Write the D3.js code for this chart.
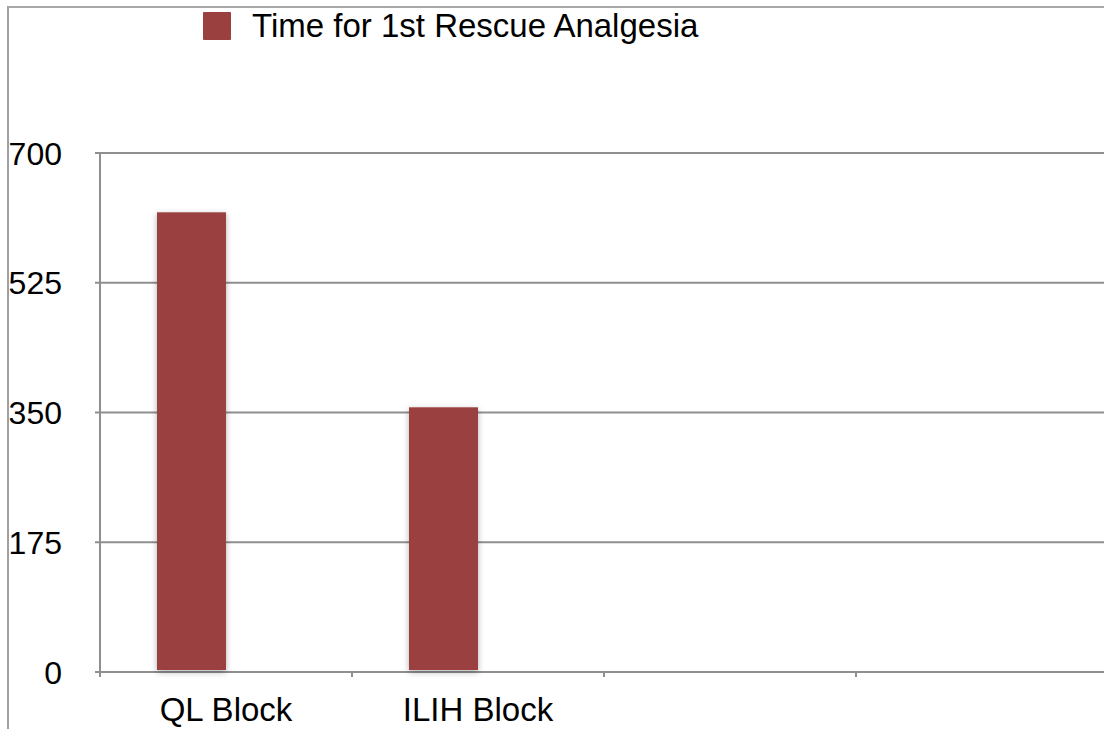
<!DOCTYPE html>
<html>
<head>
<meta charset="utf-8">
<script src="https://cdn.jsdelivr.net/npm/d3@7"></script>
<style>
  html, body { margin: 0; padding: 0; background: #fff; }
  svg { display: block; font-family: "Liberation Sans", Arial, Helvetica, sans-serif; }
</style>
</head>
<body>
<svg id="chart" width="1104" height="729"></svg>
<script>
// Category slots along the x axis (the last two are empty)
const categories = ["QL Block", "ILIH Block", "", ""];
// Time for 1st rescue analgesia per block
const seriesName = "Time for 1st Rescue Analgesia";
const values = [620, 357];
// Y axis tick values
const yTicks = [0, 175, 350, 525, 700];

const W = 1104, H = 729;
const plot = { left: 100, right: 1108, top: 153, bottom: 672 };
const barColor = "#9a403f";
const gridColor = "#8f8f8f";

const svg = d3.select("#chart");

const defs = svg.append("defs");
const shadow = defs.append("filter").attr("id", "barShadow")
  .attr("x", "-30%").attr("y", "-10%").attr("width", "160%").attr("height", "120%");
shadow.append("feDropShadow")
  .attr("dx", 0).attr("dy", 2).attr("stdDeviation", 3)
  .attr("flood-color", "#000").attr("flood-opacity", 0.3);

// Outer frame (left and top edges)
svg.append("line").attr("x1", 8).attr("x2", 8).attr("y1", 6).attr("y2", H)
  .attr("stroke", "#a0a0a0").attr("stroke-width", 2);
svg.append("line").attr("x1", 8).attr("x2", W).attr("y1", 7).attr("y2", 7)
  .attr("stroke", "#a8a8a8").attr("stroke-width", 2);

const x = d3.scaleBand()
  .domain(d3.range(categories.length))
  .range([plot.left, plot.right])
  .padding(0);

const y = d3.scaleLinear()
  .domain([0, 700])
  .range([plot.bottom, plot.top]);

// Horizontal gridlines with short left ticks
svg.append("g").selectAll("line.grid")
  .data(yTicks)
  .join("line")
  .attr("class", "grid")
  .attr("x1", plot.left - 5).attr("x2", W)
  .attr("y1", d => y(d)).attr("y2", d => y(d))
  .attr("stroke", gridColor).attr("stroke-width", 2);

// Vertical axis line
svg.append("line")
  .attr("x1", plot.left).attr("x2", plot.left)
  .attr("y1", y(700) - 1).attr("y2", y(0) + 5)
  .attr("stroke", gridColor).attr("stroke-width", 2);

// Category boundary ticks below the baseline
const boundaries = d3.range(categories.length + 1).map(i => plot.left + i * x.step());
svg.append("g").selectAll("line.xtick")
  .data(boundaries)
  .join("line")
  .attr("x1", d => d).attr("x2", d => d)
  .attr("y1", y(0)).attr("y2", y(0) + 5)
  .attr("stroke", gridColor).attr("stroke-width", 2);

// Y tick labels
svg.append("g").selectAll("text.ylab")
  .data(yTicks)
  .join("text")
  .attr("x", 62)
  .attr("y", d => y(d))
  .attr("dy", "0.36em")
  .attr("text-anchor", "end")
  .attr("font-size", 32)
  .attr("fill", "#000")
  .text(d => d);

// Bars: each sits in the left half of its category slot
const bw = x.bandwidth();
svg.append("g").selectAll("rect.bar")
  .data(values)
  .join("rect")
  .attr("class", "bar")
  .attr("x", (d, i) => x(i) + bw * 0.2262)
  .attr("width", bw * 0.2738)
  .attr("y", d => y(d))
  .attr("height", d => y(0) - 2 - y(d))
  .attr("fill", barColor)
  .attr("filter", "url(#barShadow)");

// Category labels
svg.append("g").selectAll("text.xlab")
  .data(categories)
  .join("text")
  .attr("x", (d, i) => x(i) + bw / 2)
  .attr("y", 721)
  .attr("text-anchor", "middle")
  .attr("font-size", 33)
  .attr("fill", "#000")
  .text(d => d);

// Legend
const legend = svg.append("g");
legend.append("rect")
  .attr("x", 203).attr("y", 12).attr("width", 28).attr("height", 28)
  .attr("fill", barColor).attr("rx", 1);
legend.append("text")
  .attr("x", 252).attr("y", 37)
  .attr("font-size", 33)
  .attr("fill", "#000")
  .text(seriesName);
</script>
</body>
</html>
